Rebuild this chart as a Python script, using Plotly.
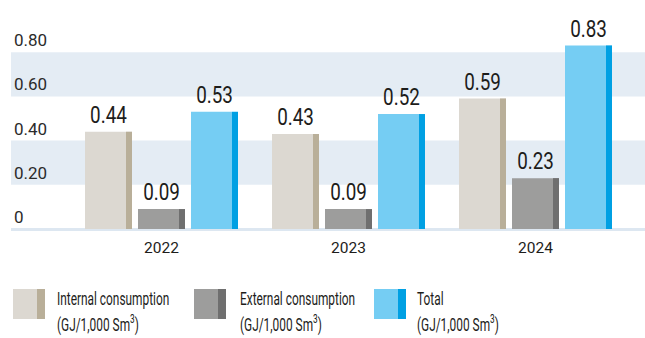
import plotly.graph_objects as go

# Energy intensity, GJ per 1,000 Sm3
years = ["2022", "2023", "2024"]
internal = [0.44, 0.43, 0.59]
external = [0.09, 0.09, 0.23]
total = [0.53, 0.52, 0.83]

y_ticks = [0, 0.2, 0.4, 0.6, 0.8]
y_tick_text = ["0", "0.20", "0.40", "0.60", "0.80"]

series_names = ["Internal consumption", "External consumption", "Total"]
unit_text = "(GJ/1,000 Sm<sup>3</sup>)"

face_colors = ["#dcd8d1", "#9d9d9c", "#75cdf3"]
edge_colors = ["#b9af99", "#6f6f6f", "#00a0e3"]

W, H = 645, 338
ML, MR, MT, MB = 11, 0, 10, 105
plot_w = W - ML - MR
plot_h = H - MT - MB

# vertical scale: value 0 sits at pixel row 229, 221 px per unit
zero_px = 229
px_per_unit = 221
y_top = (zero_px - MT) / px_per_unit
y_bot = -((H - MB) - zero_px) / px_per_unit

# horizontal scale: 187 px between year groups, first group centred at 161.5 px
px_per_cat = 187.0
x_left = -(161.5 - ML) / px_per_cat
x_right = x_left + plot_w / px_per_cat

bar_w = 47 / px_per_cat
edge_w = 6 / px_per_cat
offsets = [-76.5 / px_per_cat, -23.5 / px_per_cat, 29.5 / px_per_cat]

text_color = "#1d1d1b"
value_font = dict(family="Roboto", size=23, color=text_color)
legend_font = dict(family="Roboto", size=18, color=text_color)
year_font = dict(family="Roboto", size=15.5, color=text_color)
tick_font = dict(family="Roboto", size=17, color="#2b2b2b")

xs = list(range(len(years)))
fig = go.Figure()
for vals, off, fc, ec, name in zip([internal, external, total], offsets,
                                   face_colors, edge_colors, series_names):
    fig.add_trace(go.Bar(
        x=xs, y=vals, width=bar_w, offset=off, name=name,
        marker=dict(color=fc, line=dict(width=0)),
        text=[f"{v:.2f}" for v in vals], textposition="outside",
        textfont=value_font,
        constraintext="none", cliponaxis=False, showlegend=False,
        hoverinfo="skip",
    ))
    fig.add_trace(go.Bar(
        x=xs, y=vals, width=edge_w, offset=off + bar_w - edge_w,
        marker=dict(color=ec, line=dict(width=0)),
        showlegend=False, hoverinfo="skip",
    ))

band_color = "#e4ecf4"
shapes = []
for lo, hi in [(0.2, 0.4), (0.6, 0.8)]:
    shapes.append(dict(type="rect", xref="paper", yref="y", x0=0, x1=1,
                       y0=lo, y1=hi, fillcolor=band_color, line_width=0,
                       layer="below"))
# baseline strip
shapes.append(dict(type="rect", xref="paper", yref="y", x0=0, x1=1,
                   y0=-2 / px_per_unit, y1=1 / px_per_unit,
                   fillcolor="#dde7f1", line_width=0, layer="below"))


def px_x(p):
    return (p - ML) / plot_w


def px_y(p):
    return ((H - MB) - p) / plot_h


# legend: two-tone swatches with two-line captions
legend_x = [13, 194, 374]
text_x = [55, 238, 415]
annotations = []
for lx, tx, fc, ec, name in zip(legend_x, text_x, face_colors, edge_colors,
                                series_names):
    shapes.append(dict(type="rect", xref="paper", yref="paper",
                       x0=px_x(lx), x1=px_x(lx + 32), y0=px_y(319), y1=px_y(289),
                       fillcolor=fc, line_width=0))
    shapes.append(dict(type="rect", xref="paper", yref="paper",
                       x0=px_x(lx + 24), x1=px_x(lx + 32), y0=px_y(319), y1=px_y(289),
                       fillcolor=ec, line_width=0))
    for line, cy in [(name, 298), (unit_text, 323)]:
        annotations.append(dict(
            text=line, xref="paper", yref="paper", x=px_x(tx), y=px_y(cy),
            xanchor="left", yanchor="middle", showarrow=False,
            font=legend_font,
        ))

fig.update_layout(
    width=W, height=H,
    margin=dict(l=ML, r=MR, t=MT, b=MB),
    paper_bgcolor="white", plot_bgcolor="white",
    barmode="overlay",
    xaxis=dict(range=[x_left, x_right], tickvals=xs, ticktext=years,
               showgrid=False, zeroline=False, showline=False, ticks="",
               ticklabelstandoff=3, tickfont=year_font),
    yaxis=dict(range=[y_bot, y_top], tickvals=y_ticks, ticktext=y_tick_text,
               ticklabelposition="inside top", showgrid=False, zeroline=False,
               showline=False, ticks="",
               tickfont=tick_font),
    shapes=shapes,
    annotations=annotations,
)

# narrow the value labels and legend captions horizontally (condensed look)
condense_js = """
var gd = document.getElementById('{plot_id}');
function squeeze(sel, s, pivot) {
  gd.querySelectorAll(sel).forEach(function (t) {
    var b = t.getBBox();
    var px = pivot === 'left' ? b.x : b.x + b.width / 2;
    var tr = t.getAttribute('transform') || '';
    t.setAttribute('transform', tr + ' translate(' + px + ',0) scale(' + s +
                   ',1) translate(' + (-px) + ',0)');
  });
}
squeeze('text.bartext', 0.82, 'center');
squeeze('text.annotation-text', 0.66, 'left');
"""

fig.write_html("out.html", post_script=condense_js)
